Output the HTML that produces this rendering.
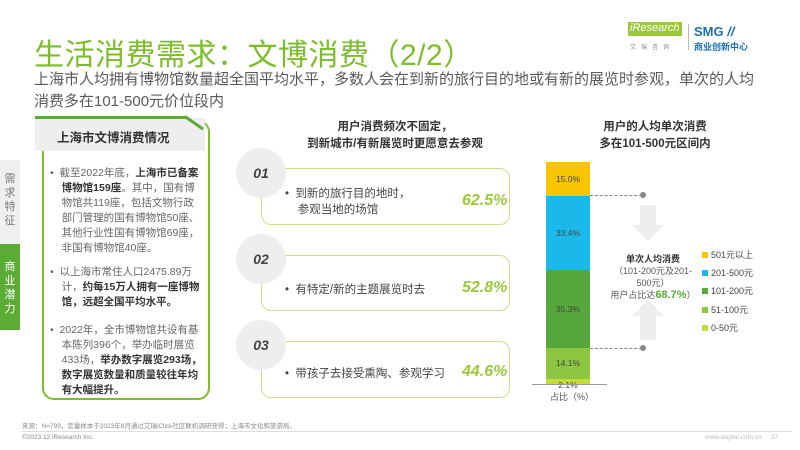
<!DOCTYPE html>
<html><head><meta charset="utf-8"><style>
*{margin:0;padding:0;box-sizing:border-box}
body{width:800px;height:450px;background:#fff;position:relative;overflow:hidden;font-family:"Liberation Sans","Noto Sans CJK SC",sans-serif;color:#555}
.a{position:absolute;white-space:nowrap}
.t{left:34px;top:30px;font-size:30px;color:#7cbd2b;letter-spacing:0.5px}
.sub{left:34px;top:69px;font-size:15px;line-height:22px;color:#595959}
.card{left:42px;top:120px;width:168px;height:280px;border:2px solid #7cbd2b;border-radius:12px}
.cardh{left:35px;top:118px;width:170px;height:33px;background:#eee;font-size:12.5px;font-weight:bold;color:#333;padding:9px 0 0 22px}
.li{font-size:10.5px;line-height:15px;color:#666}
.li b{color:#333}
.box{border:1.5px solid #c8e08a;border-radius:10px;background:#fff}
.circ{width:50px;height:50px;border-radius:50%;background:#eee;font-style:italic;font-weight:bold;color:#444;font-size:14px;text-align:center;line-height:50px}
.pct{font-size:16px;font-weight:bold;font-style:italic;color:#9bc93a}
.h{font-size:11.5px;font-weight:bold;color:#333;text-align:center;line-height:17px}
.seg{position:absolute;left:546px;width:44px;font-size:8.5px;text-align:center;color:#444}
.lg{font-size:9px;color:#444}
.lg i{display:inline-block;width:6px;height:6px;margin-right:3px}
</style></head><body>
<div class="a t">生活消费需求：文博消费（2/2）</div>
<div class="a sub">上海市人均拥有博物馆数量超全国平均水平，多数人会在到新的旅行目的地或有新的展览时参观，单次的人均<br>消费多在101-500元价位段内</div>
<div class="a" style="left:628px;top:22px;width:54px;height:14px;background:#9bc93a;color:#fff;font-size:11px;font-style:italic;padding-left:2px">iResearch</div>
<div class="a" style="left:630px;top:42px;font-size:6px;color:#888;letter-spacing:5px">艾瑞咨询</div>
<div class="a" style="left:688px;top:24px;width:1px;height:26px;background:#bbb"></div>
<div class="a" style="left:694px;top:24px;font-size:13px;font-weight:bold;color:#1a6fb5">SMG <span style="font-style:italic">//</span></div>
<div class="a" style="left:694px;top:40px;font-size:9px;font-weight:bold;color:#1a6fb5">商业创新中心</div>

<div class="a" style="left:0;top:160px;width:20px;height:84px;background:#f0f0f0;color:#777;font-size:11px;text-align:center;line-height:14px;padding-top:12px;white-space:normal">需求特征</div>
<div class="a" style="left:0;top:244px;width:20px;height:86px;background:#5aac35;color:#fff;font-size:11px;text-align:center;line-height:14px;padding-top:16px;white-space:normal">商业潜力</div>

<div class="a card"></div>
<div class="a cardh">上海市文博消费情况</div>
<div class="a" style="left:35px;top:116px;width:152px;height:3px;background:#5aac35"></div>
<div class="a" style="left:185px;top:115px;width:22px;height:3px;background:#5aac35;transform:rotate(35deg);transform-origin:left"></div>
<div class="a li" style="left:50px;top:166px">•&nbsp; 截至2022年底，<b>上海市已备案</b><br>&nbsp;&nbsp;&nbsp;&nbsp;<b>博物馆159座</b>。其中，国有博<br>&nbsp;&nbsp;&nbsp;&nbsp;物馆共119座，包括文物行政<br>&nbsp;&nbsp;&nbsp;&nbsp;部门管理的国有博物馆50座、<br>&nbsp;&nbsp;&nbsp;&nbsp;其他行业性国有博物馆69座，<br>&nbsp;&nbsp;&nbsp;&nbsp;非国有博物馆40座。</div>
<div class="a li" style="left:50px;top:265px">•&nbsp; 以上海市常住人口2475.89万<br>&nbsp;&nbsp;&nbsp;&nbsp;计，<b>约每15万人拥有一座博物</b><br>&nbsp;&nbsp;&nbsp;&nbsp;<b>馆，远超全国平均水平。</b></div>
<div class="a li" style="left:50px;top:323px">•&nbsp; 2022年，全市博物馆共设有基<br>&nbsp;&nbsp;&nbsp;&nbsp;本陈列396个，举办临时展览<br>&nbsp;&nbsp;&nbsp;&nbsp;433场，<b>举办数字展览293场，</b><br>&nbsp;&nbsp;&nbsp;&nbsp;<b>数字展览数量和质量较往年均</b><br>&nbsp;&nbsp;&nbsp;&nbsp;<b>有大幅提升。</b></div>

<div class="a h" style="left:280px;top:119px;width:230px">用户消费频次不固定，<br>到新城市/有新展览时更愿意去参观</div>
<div class="a box" style="left:261px;top:168px;width:249px;height:57px"></div>
<div class="a box" style="left:261px;top:255px;width:249px;height:56px"></div>
<div class="a box" style="left:261px;top:341px;width:249px;height:57px"></div>
<div class="a circ" style="left:236px;top:148px">01</div>
<div class="a circ" style="left:236px;top:234px">02</div>
<div class="a circ" style="left:236px;top:320px">03</div>
<div class="a" style="left:285px;top:186px;font-size:11.5px;line-height:16px;color:#444">•&nbsp; 到新的旅行目的地时，<br>&nbsp;&nbsp;&nbsp;&nbsp;参观当地的场馆</div>
<div class="a" style="left:285px;top:281px;font-size:11.5px;color:#444">•&nbsp; 有特定/新的主题展览时去</div>
<div class="a" style="left:285px;top:365px;font-size:11.5px;color:#444">•&nbsp; 带孩子去接受熏陶、参观学习</div>
<div class="a pct" style="left:462px;top:192px">62.5%</div>
<div class="a pct" style="left:462px;top:279px">52.8%</div>
<div class="a pct" style="left:462px;top:363px">44.6%</div>

<div class="a h" style="left:580px;top:119px;width:150px">用户的人均单次消费<br>多在101-500元区间内</div>
<div class="seg" style="top:162px;height:34px;background:#f7c500;line-height:34px">15.0%</div>
<div class="seg" style="top:196px;height:74px;background:#1bb8ea;line-height:74px">33.4%</div>
<div class="seg" style="top:270px;height:78px;background:#56a83c;line-height:78px">35.3%</div>
<div class="seg" style="top:348px;height:31px;background:#8cc53f;line-height:31px">14.1%</div>
<div class="seg" style="top:379px;height:5px;background:#c3dc3a;line-height:12px">2.1%</div>
<div class="a" style="left:532px;top:384px;width:75px;height:1px;background:#999"></div>
<div class="a" style="left:550px;top:390px;font-size:9px;color:#555">占比（%）</div>
<div class="a" style="left:590px;top:195px;width:52px;border-top:1px dashed #888"></div>
<div class="a" style="left:590px;top:348px;width:52px;border-top:1px dashed #888"></div>
<div class="a" style="left:640px;top:192px;width:6px;height:6px;border-radius:50%;background:#888"></div>
<div class="a" style="left:640px;top:345px;width:6px;height:6px;border-radius:50%;background:#888"></div>
<svg class="a" style="left:628px;top:205px" width="40" height="140"><path d="M12 0h16v20h8l-16 16-16-16h8z" fill="#eee"/><path d="M20 95l16 16h-8v24h-16v-24h-8z" fill="#eee"/></svg>
<div class="a" style="left:598px;top:253px;width:110px;text-align:center;font-size:9px;line-height:12px;color:#555;white-space:normal"><b style="color:#333">单次人均消费</b><br>（101-200元及201-<br>500元）<br>用户占比达<b style="color:#5aac35;font-size:11px">68.7%</b>）</div>
<div class="a lg" style="left:702px;top:248px"><i style="background:#f7c500"></i>501元以上</div>
<div class="a lg" style="left:702px;top:266px"><i style="background:#1bb8ea"></i>201-500元</div>
<div class="a lg" style="left:702px;top:284px"><i style="background:#56a83c"></i>101-200元</div>
<div class="a lg" style="left:702px;top:303px"><i style="background:#8cc53f"></i>51-100元</div>
<div class="a lg" style="left:702px;top:321px"><i style="background:#c3dc3a"></i>0-50元</div>

<div class="a" style="left:22px;top:420px;font-size:6.5px;color:#888">来源：N=799，定量样本于2023年8月通过艾瑞iClick社区联机调研获得；上海市文化和旅游局。</div>
<div class="a" style="left:22px;top:431px;width:770px;height:1px;background:#ddd"></div>
<div class="a" style="left:22px;top:434px;font-size:6.5px;color:#888">©2023.12 iResearch Inc.</div>
<div class="a" style="left:705px;top:434px;font-size:6.5px;color:#bbb">www.idigital.com.cn&nbsp;&nbsp;&nbsp;&nbsp;&nbsp;37</div>
</body></html>
